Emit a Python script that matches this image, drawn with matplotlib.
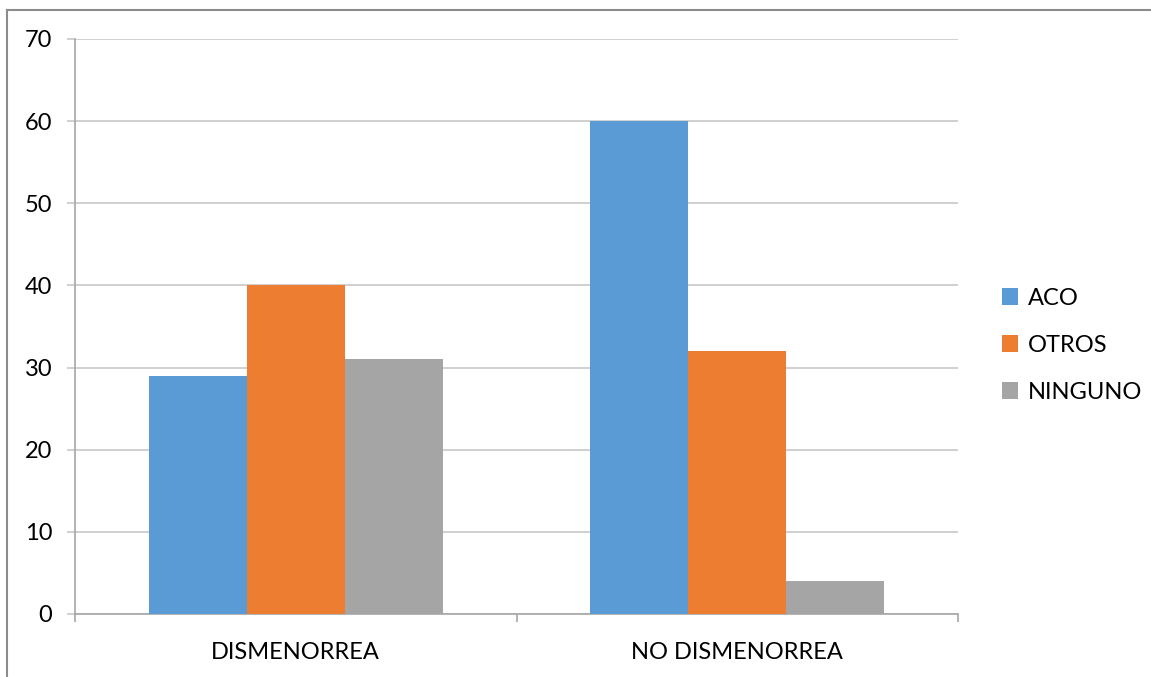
import matplotlib.pyplot as plt
from matplotlib.lines import Line2D
import numpy as np

categorias = ["DISMENORREA", "NO DISMENORREA"]
series = ["ACO", "OTROS", "NINGUNO"]
aco = [29, 60]
otros = [40, 32]
ninguno = [31, 4]
valores = [aco, otros, ninguno]
colores = ["#5B9BD5", "#ED7D31", "#A5A5A5"]
yticks = [0, 10, 20, 30, 40, 50, 60, 70]

plt.rcParams['font.family'] = ['Lato', 'DejaVu Sans']

fig = plt.figure(figsize=(11.51, 6.77), dpi=100)
ax = fig.add_axes([0.0652, 0.0931, 0.7671, 0.8493])

x = np.arange(len(categorias))
ancho = 0.222
for i, (nombre, vals, c) in enumerate(zip(series, valores, colores)):
    ax.bar(x + (i - 1) * ancho, vals, ancho, color=c, label=nombre, zorder=3)

ax.set_xlim(-0.5, 1.5)
ax.set_ylim(0, 70)
ax.set_yticks(yticks)
ax.set_yticklabels([str(v) for v in yticks])
ax.yaxis.grid(True, color="#C8C8C8", linewidth=1.2, zorder=0)
ax.tick_params(axis="y", length=5.5, width=1.2, color="#C8C8C8", pad=11,
               labelsize=17)

# category labels in the middle, tick marks on the boundaries
ax.set_xticks(x)
ax.set_xticklabels(categorias)
ax.set_xticks([-0.5, 0.5, 1.5], minor=True)
ax.tick_params(axis="x", which="major", length=0, pad=20, labelsize=17)
ax.tick_params(axis="x", which="minor", length=6, width=1.2, color="#A6A6A6")

for lado in ["top", "right"]:
    ax.spines[lado].set_visible(False)
ax.spines["left"].set_color("#A6A6A6")
ax.spines["bottom"].set_color("#A6A6A6")
ax.spines["left"].set_linewidth(1.2)
ax.spines["bottom"].set_linewidth(1.2)

ax.legend(loc="center left", bbox_to_anchor=(0.862, 0.490),
          bbox_transform=fig.transFigure, frameon=False, fontsize=17,
          handlelength=0.7, handleheight=0.7, handletextpad=0.4,
          labelspacing=1.1, borderaxespad=0)

# outer frame of the chart area
fig.add_artist(Line2D([7 / 1151, 1], [1 - 9.5 / 677] * 2, color="#8C8C8C", lw=1.5))
fig.add_artist(Line2D([7 / 1151] * 2, [0, 1 - 9.5 / 677], color="#8C8C8C", lw=1.5))

fig.savefig("out.png", dpi=100)
